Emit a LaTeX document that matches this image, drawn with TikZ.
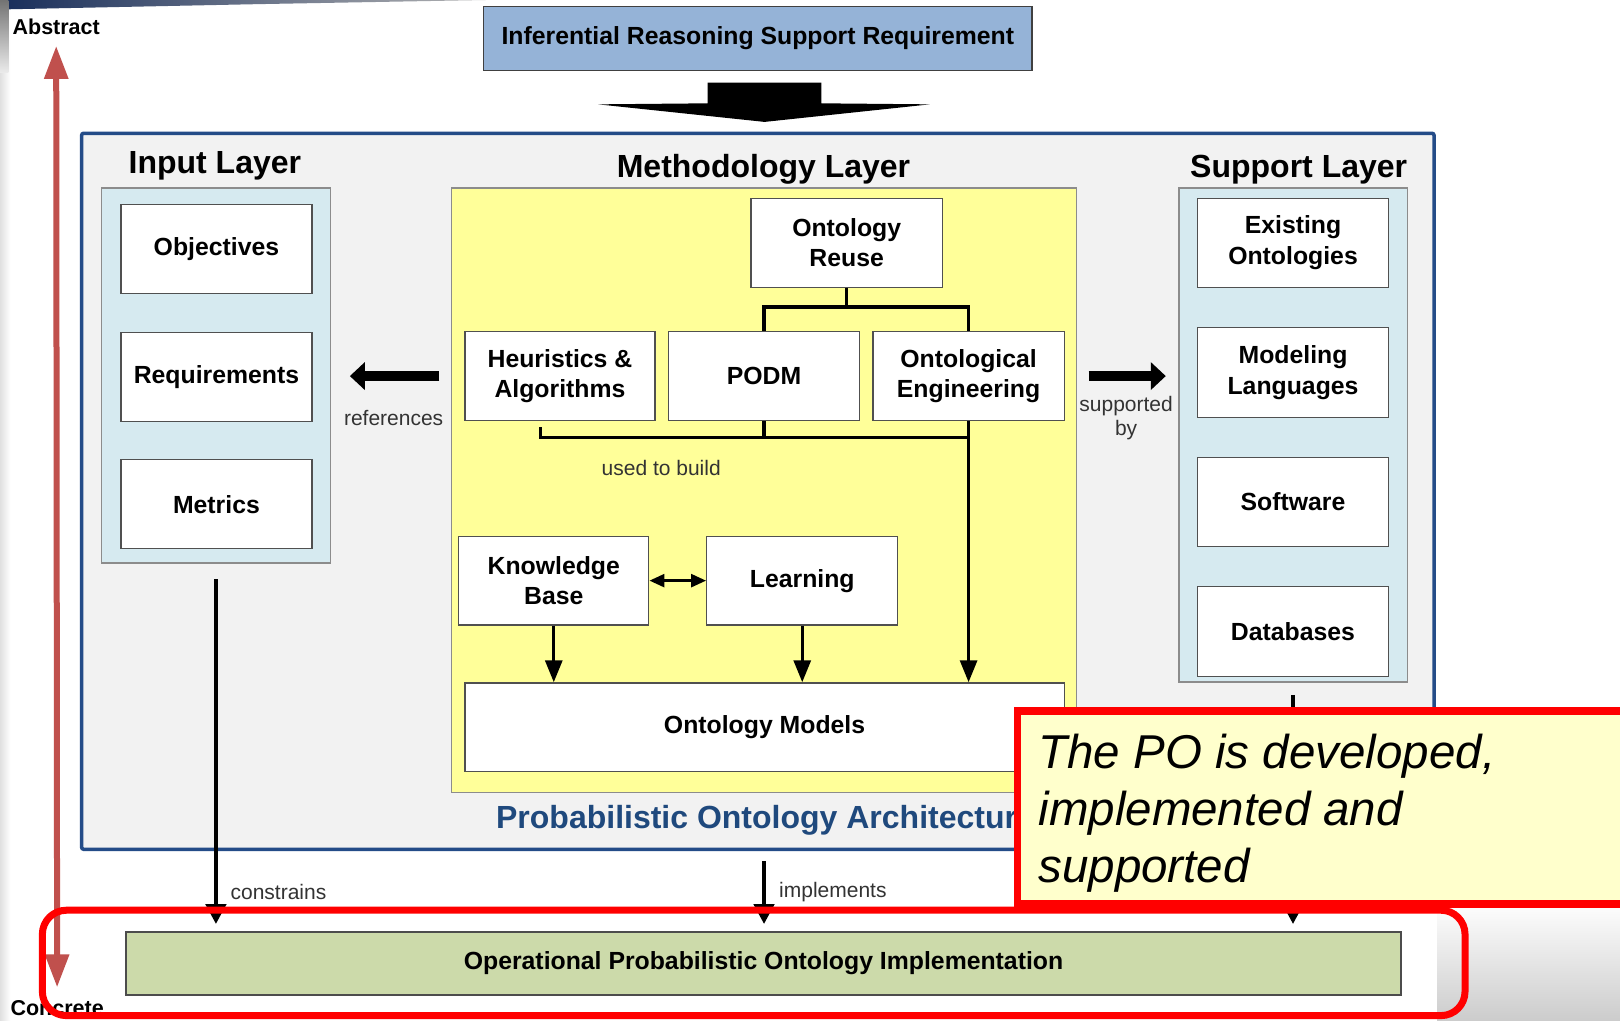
\documentclass[tikz,border=0pt]{standalone}
\usepackage{fontspec}
\setmainfont{Liberation Sans}
\usetikzlibrary{arrows.meta,fit,calc}

\definecolor{frameblue}{RGB}{36,76,136}
\definecolor{titleblue}{RGB}{31,73,125}
\definecolor{panelgrey}{RGB}{242,242,242}
\definecolor{inputblue}{RGB}{214,234,240}
\definecolor{methyellow}{RGB}{255,255,153}
\definecolor{topblue}{RGB}{149,179,215}
\definecolor{implgreen}{RGB}{204,218,170}
\definecolor{axisred}{RGB}{192,80,77}
\definecolor{notefill}{RGB}{255,255,204}
\definecolor{boxedge}{RGB}{80,80,80}
\definecolor{labelgrey}{RGB}{51,51,51}
\definecolor{slidenavy}{RGB}{23,45,90}

\begin{document}
\begin{tikzpicture}[x=1.0332pt,y=-1.0332pt,
  box/.style={draw=boxedge,line width=1.3pt,fill=white,inner sep=0pt,align=center,
    minimum width=191.1pt,minimum height=88.9pt,
    font=\bfseries\fontsize{24.8}{30.5}\selectfont},
  panel/.style={draw=black!45,line width=1.3pt,inner sep=0pt},
  layertitle/.style={inner sep=0pt,font=\bfseries\fontsize{32}{36}\selectfont},
  axislabel/.style={inner sep=0pt,font=\bfseries\fontsize{21.5}{24}\selectfont},
  edgelabel/.style={inner sep=0pt,text=labelgrey,font=\fontsize{21}{23}\selectfont},
  tree/.style={line width=3.2pt},
  flow/.style={line width=3.2pt,-{Triangle[width=17pt,length=22pt]}},
  longflow/.style={line width=4.6pt,-{Triangle[width=20pt,length=20pt]}},
  fatarrow/.style={line width=10pt,-{Triangle[width=27pt,length=15pt]}},
  notetext/.style={inner sep=0pt,anchor=base west,font=\itshape\fontsize{47.5}{57}\selectfont}]
\useasboundingbox (0,0) rectangle (1568,988);

% slide backdrop
\fill[white] (0,0) rectangle (1568,988);
\shade[top color=white,bottom color=black!20] (1391,872) rectangle (1568,988);
\shade[left color=black!12,right color=white] (0,0) rectangle (10,988);
\shade[left color=slidenavy,right color=black!30] (0,0) -- (470,0) -- (250,4) -- (8,9) -- cycle;
\shade[top color=black!55,bottom color=black!8] (0,0) rectangle (8,70);

% abstract / concrete axis
\node[axislabel,anchor=base west] (abstract) at (12,33) {Abstract};
\node[axislabel,anchor=base west] (concrete) at (10,983) {Concrete};
\draw[axisred,line width=6pt,{Triangle[width=23pt,length=33pt]}-{Triangle[width=23pt,length=33pt]}]
  ([yshift=-11.4pt]abstract.south) -- ([yshift=13pt]concrete.north);

% requirement feeding the architecture
\node[box,fill=topblue,draw=black!75,minimum width=548.6pt,minimum height=64.1pt] (req) at (733.5,37)
  {Inferential Reasoning Support Requirement};
\fill (685,80) -- (795,80) -- (795,100) -- (900,101) -- (740,118) -- (579,101) -- (685,100) -- cycle;

% architecture frame
\node[draw=frameblue,line width=3.5pt,fill=panelgrey,rounded corners=2pt,inner sep=0pt,
  fit={(79,129)(1388,822)}] (arch) {};
\node[layertitle,anchor=base] (tin) at (208,168) {Input Layer};
\node[layertitle,anchor=base] (tmeth) at (739,172) {Methodology Layer};
\node[layertitle,anchor=base] (tsup) at (1257,172) {Support Layer};
\node[layertitle,text=titleblue,anchor=base west] (tarch) at (480,802) {Probabilistic Ontology Architecture};

% input layer
\node[panel,fill=inputblue,fit={(98,182)(320,545)}] (inpanel) {};
\node[box] (obj) at (209.5,241) {Objectives};
\node[box] (reqs) at (209.5,365) {Requirements};
\node[box] (metr) at (209.5,488) {Metrics};

% methodology layer
\node[panel,fill=methyellow,fit={(437,182)(1042,767)}] (meth) {};
\node[box] (reuse) at (819.5,235) {Ontology\\Reuse};
\node[box,minimum width=190.1pt] (heur) at (542,364) {Heuristics \&\\Algorithms};
\node[box] (podm) at (739.5,364) {PODM};
\node[box] (oeng) at (937.5,364) {Ontological\\Engineering};
\node[box,minimum width=190.1pt] (kb) at (536,562) {Knowledge\\Base};
\node[box] (learn) at (776.5,562) {Learning};
\node[box,minimum width=599.3pt] (models) at (740,704) {Ontology Models};

% support layer
\node[panel,fill=inputblue,fit={(1141,182)(1362,660)}] (suppanel) {};
\node[box] (exist) at (1251.5,235) {Existing\\Ontologies};
\node[box,minimum height=89.9pt] (lang) at (1251.5,360.5) {Modeling\\Languages};
\node[box] (soft) at (1251.5,486) {Software};
\node[box,minimum height=89.9pt] (dbs) at (1251.5,611.5) {Databases};

% implementation
\node[box,fill=implgreen,draw=black!70,minimum width=1275pt,minimum height=63pt] (impl) at (739,932.5)
  {Operational Probabilistic Ontology Implementation};

% reuse branches into PODM and ontological engineering
\coordinate (rjoin) at ($(reuse.south)+(0,18.5)$);
\draw[tree] (reuse.south) -- (rjoin);
\draw[tree] (podm.north) |- (rjoin) -| (oeng.north);

% methods used to build the models
\coordinate (hstart) at ($(heur.south)+(-19,6)$);
\coordinate (bus) at ($(oeng.south)+(0,16)$);
\draw[tree] (hstart) |- (bus);
\draw[tree] (podm.south) -- (podm.south |- bus);
\draw[flow] (oeng.south) -- (oeng.south |- models.north);
\node[edgelabel] (usedlbl) at (640,453) {used to build};

\draw[line width=2.6pt,{Triangle[width=13pt,length=15pt]}-{Triangle[width=13pt,length=15pt]}] (kb.east) -- (learn.west);
\draw[flow] (kb.south) -- (kb.south |- models.north);
\draw[flow] (learn.south) -- (learn.south |- models.north);

% cross-layer relations
\draw[fatarrow] ([xshift=-11.4pt]meth.west |- heur.center) -- ([xshift=18.6pt]inpanel.east |- heur.center);
\node[edgelabel] (reflbl) at (381,405) {references};
\draw[fatarrow] ([xshift=11.4pt]meth.east |- oeng.center) -- ([xshift=-12.4pt]suppanel.west |- oeng.center);
\node[edgelabel,align=center,font=\fontsize{21}{24}\selectfont] (suplbl) at (1090,405) {supported\\by};

\draw[longflow] ([yshift=-15.5pt]inpanel.south) -- ([yshift=7.2pt]impl.north -| inpanel.south);
\node[edgelabel,anchor=west] (conlbl) at (223,863) {constrains};
\draw[longflow] ([yshift=-10.3pt]arch.south -| meth.south) -- ([yshift=7.2pt]impl.north -| meth.south);
\node[edgelabel,anchor=west] (implbl) at (754,863) {implements};
\draw[longflow] ([yshift=-12.4pt]suppanel.south) -- ([yshift=7.2pt]impl.north -| suppanel.south);

% highlight of the implementation row
\draw[red,line width=7pt,rounded corners=24pt] (41,881) rectangle (1418,983);

% note
\draw[red,line width=7.5pt,fill=notefill] (985,688) rectangle (1590,875);
\node[notetext] (note1) at (1005,744) {The PO is developed,};
\node[notetext] (note2) at (1005,799) {implemented and};
\node[notetext] (note3) at (1005,854) {supported};
\end{tikzpicture}
\end{document}
